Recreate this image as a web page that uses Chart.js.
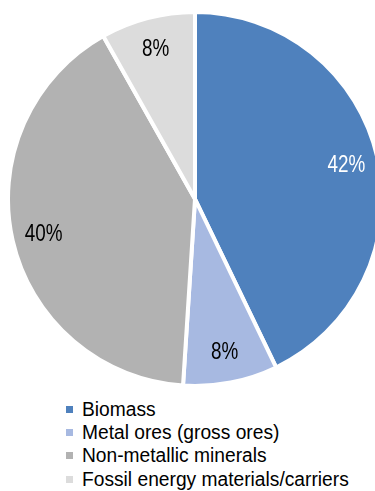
<!DOCTYPE html>
<html>
<head>
<meta charset="utf-8">
<script src="https://cdn.jsdelivr.net/npm/chart.js@4/dist/chart.umd.min.js"></script>
<style>
  html, body {
    margin: 0;
    width: 375px;
    height: 491px;
    overflow: hidden;
    background: #fff;
    position: relative;
    font-family: 'Liberation Sans', Arial, sans-serif;
  }
  #pie_box {
    position: absolute;
    left: 6px;
    top: 10px;
    width: 378px;
    height: 378px;
  }
  #legend {
    position: absolute;
    left: 66px;
    top: 397.5px;
    margin: 0;
    padding: 0;
    list-style: none;
  }
  #legend li {
    display: flex;
    align-items: center;
    height: 23.4px;
    font-size: 20px;
    color: #000;
    white-space: nowrap;
  }
  #legend .box {
    width: 7px;
    height: 7px;
    margin-right: 8.7px;
    flex: none;
  }
  #legend .name {
    display: inline-block;
    transform: scaleX(0.96);
    transform-origin: left center;
  }
</style>
</head>
<body>
<div id="pie_box"><canvas id="materialPie"></canvas></div>
<ul id="legend"></ul>
<script>
const categories = ['Biomass', 'Metal ores (gross ores)', 'Non-metallic minerals', 'Fossil energy materials/carriers'];
const shares = [42, 8, 40, 8];
const sliceColors = ['#4f81bd', '#a7b9e1', '#b2b2b2', '#dcdcdc'];
const labelColors = ['#ffffff', '#000000', '#000000', '#000000'];

// Percent labels inside each slice, drawn a bit narrow like the office export
const sliceLabels = {
  id: 'sliceLabels',
  afterDatasetsDraw(chart) {
    const ctx = chart.ctx;
    const meta = chart.getDatasetMeta(0);
    meta.data.forEach((arc, i) => {
      const { x, y, startAngle, endAngle, outerRadius } = arc.getProps(
        ['x', 'y', 'startAngle', 'endAngle', 'outerRadius'], true);
      const mid = (startAngle + endAngle) / 2;
      const r = outerRadius * 0.83;
      const lx = x + Math.cos(mid) * r;
      const ly = y + Math.sin(mid) * r;
      ctx.save();
      ctx.translate(lx, ly);
      ctx.scale(0.82, 1);
      ctx.font = '23px "Liberation Sans", Arial, sans-serif';
      ctx.fillStyle = labelColors[i];
      ctx.textAlign = 'center';
      ctx.textBaseline = 'middle';
      ctx.fillText(shares[i] + '%', 0, 1);
      ctx.restore();
    });
  },
};

const chart = new Chart(document.getElementById('materialPie'), {
  type: 'pie',
  data: {
    labels: categories,
    datasets: [
      {
        data: shares,
        backgroundColor: sliceColors,
        borderColor: '#ffffff',
        borderWidth: 4,
        hoverOffset: 0,
      },
    ],
  },
  options: {
    responsive: true,
    maintainAspectRatio: false,
    animation: false,
    events: [],
    layout: { padding: 0 },
    plugins: {
      legend: { display: false },
      tooltip: { enabled: false },
    },
  },
  plugins: [sliceLabels],
});

// Legend list below the pie
const legendList = document.getElementById('legend');
categories.forEach((name, i) => {
  const li = document.createElement('li');
  const box = document.createElement('span');
  box.className = 'box';
  box.style.background = sliceColors[i];
  const text = document.createElement('span');
  text.className = 'name';
  text.textContent = name;
  li.appendChild(box);
  li.appendChild(text);
  legendList.appendChild(li);
});
</script>
</body>
</html>
